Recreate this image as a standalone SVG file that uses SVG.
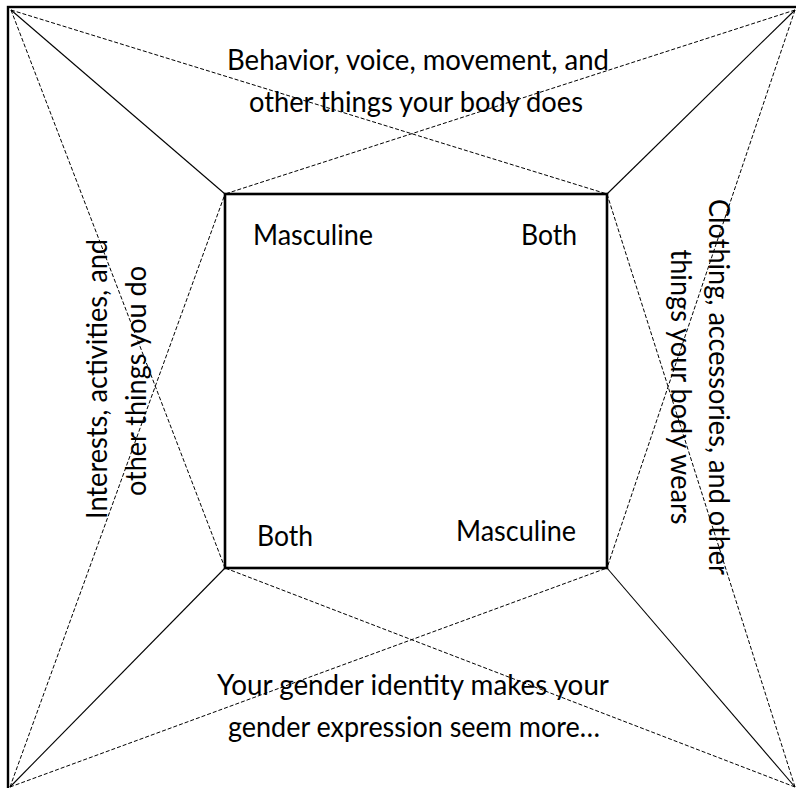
<svg xmlns="http://www.w3.org/2000/svg" width="796" height="788" viewBox="0 0 796 788">
<style>
  .frame { fill: none; stroke: #000; stroke-width: 2.4; }
  .box { fill: none; stroke: #000; stroke-width: 2.6; }
  .solid { stroke: #000; stroke-width: 1.1; fill: none; }
  .dash { stroke: #000; stroke-width: 1; fill: none; stroke-dasharray: 4 2; }
  text { font-family: "Lato", "Open Sans", "Liberation Sans", sans-serif; font-size: 28px; fill: #000; }
</style>
<rect width="796" height="788" fill="#fff"/>
<g id="frame">
  <rect class="frame" x="8" y="7" width="792" height="784"/>
</g>
<g id="connectors">
  <line class="solid" x1="11" y1="10" x2="225" y2="194"/>
  <line class="solid" x1="795" y1="10" x2="607" y2="194"/>
  <line class="solid" x1="10" y1="787" x2="225" y2="568"/>
  <line class="solid" x1="795" y1="787" x2="607" y2="568"/>
  <line class="dash" x1="11" y1="10" x2="607" y2="194"/>
  <line class="dash" x1="795" y1="10" x2="225" y2="194"/>
  <line class="dash" x1="11" y1="10" x2="225" y2="568"/>
  <line class="dash" x1="10" y1="787" x2="225" y2="194"/>
  <line class="dash" x1="795" y1="10" x2="607" y2="568"/>
  <line class="dash" x1="795" y1="787" x2="607" y2="194"/>
  <line class="dash" x1="10" y1="787" x2="607" y2="568"/>
  <line class="dash" x1="795" y1="787" x2="225" y2="568"/>
</g>
<g id="inner-square">
  <rect class="box" x="225" y="194" width="382" height="374"/>
</g>
<g id="label-masculine-tl"><text x="253" y="245" textLength="120" lengthAdjust="spacingAndGlyphs">Masculine</text></g>
<g id="label-both-tr"><text x="521" y="245" textLength="56" lengthAdjust="spacingAndGlyphs">Both</text></g>
<g id="label-both-bl"><text x="257" y="546" textLength="56" lengthAdjust="spacingAndGlyphs">Both</text></g>
<g id="label-masculine-br"><text x="456" y="541" textLength="120" lengthAdjust="spacingAndGlyphs">Masculine</text></g>
<g id="top-text" text-anchor="middle">
  <text x="418" y="70" textLength="382" lengthAdjust="spacingAndGlyphs">Behavior, voice, movement, and</text>
  <text x="416" y="112" textLength="334" lengthAdjust="spacingAndGlyphs">other things your body does</text>
</g>
<g id="bottom-text" text-anchor="middle">
  <text x="413" y="695" textLength="392" lengthAdjust="spacingAndGlyphs">Your gender identity makes your</text>
  <text x="414" y="737" textLength="372" lengthAdjust="spacingAndGlyphs">gender expression seem more…</text>
</g>
<g id="left-text" text-anchor="middle">
  <text transform="translate(107,379) rotate(-90)" textLength="280" lengthAdjust="spacingAndGlyphs">Interests, activities, and</text>
  <text transform="translate(146,381) rotate(-90)" textLength="230" lengthAdjust="spacingAndGlyphs">other things you do</text>
</g>
<g id="right-text" text-anchor="middle">
  <text transform="translate(709,387) rotate(90)" textLength="376" lengthAdjust="spacingAndGlyphs">Clothing, accessories, and other</text>
  <text transform="translate(671,387) rotate(90)" textLength="275" lengthAdjust="spacingAndGlyphs">things your body wears</text>
</g>
</svg>
